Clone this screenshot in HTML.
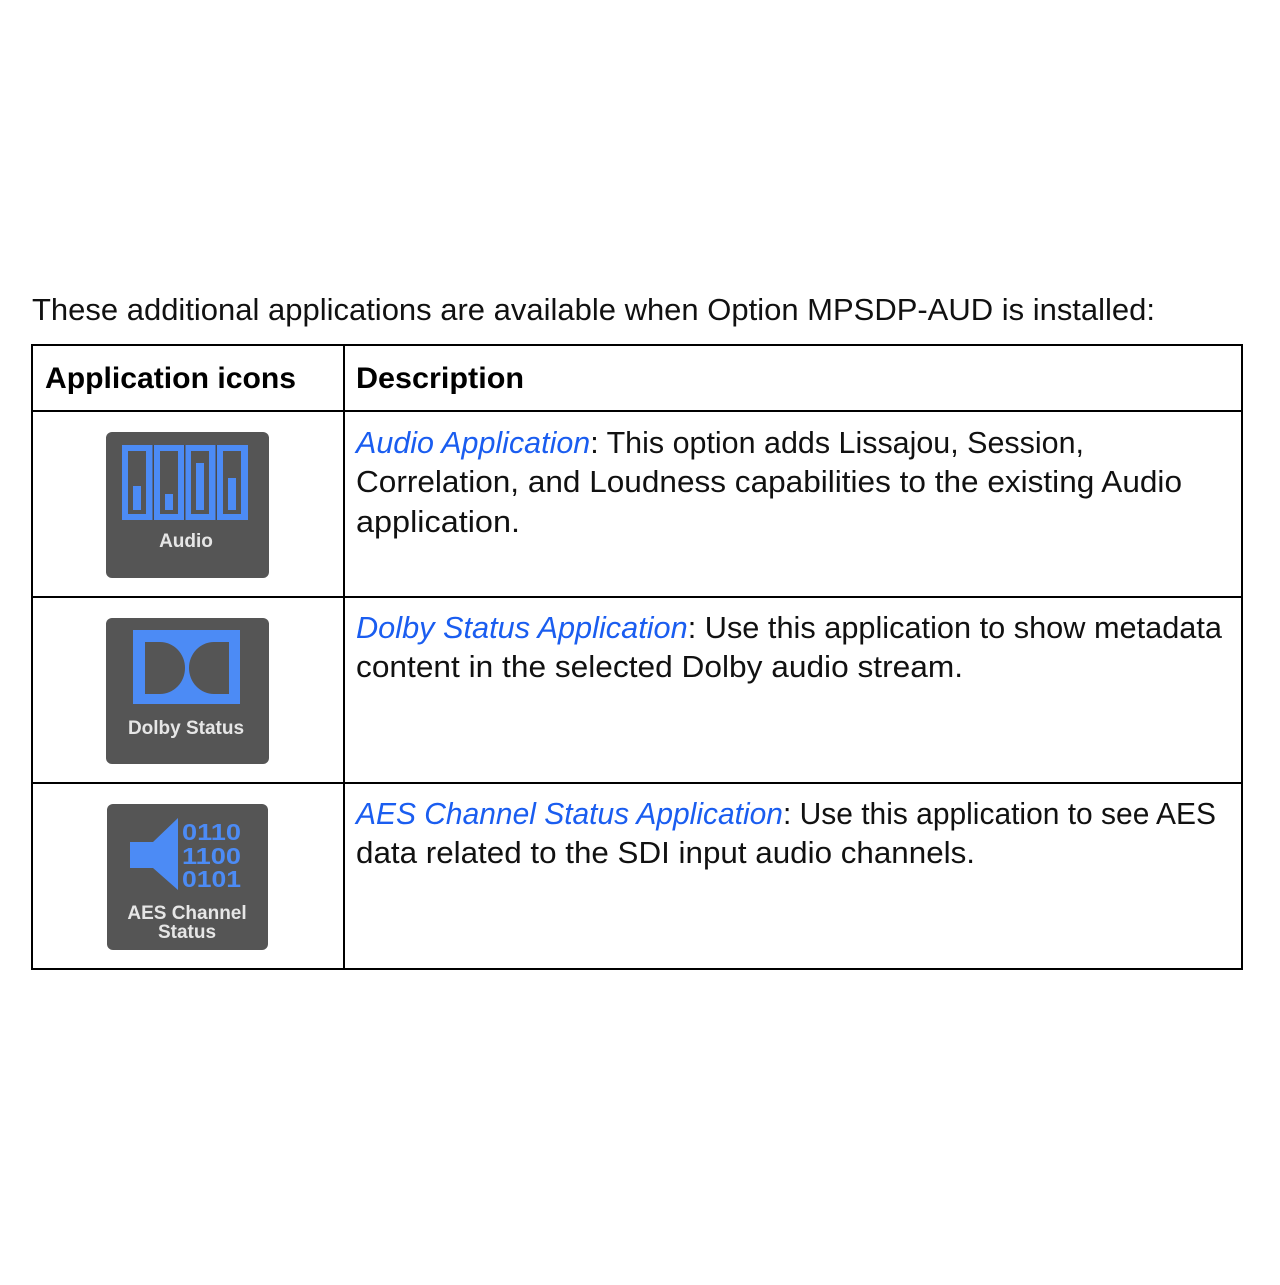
<!DOCTYPE html>
<html><head><style>html,body{margin:0;padding:0;background:#fff;}</style></head>
<body>
<svg width="1280" height="1280" viewBox="0 0 1280 1280" xmlns="http://www.w3.org/2000/svg" font-family="Liberation Sans, sans-serif">
<rect width="1280" height="1280" fill="#fff"/>
<text x="32" y="320" font-size="31" fill="#111" textLength="1123" lengthAdjust="spacingAndGlyphs">These additional applications are available when Option MPSDP-AUD is installed:</text>
<g stroke="#000" stroke-width="2" fill="none">
<rect x="32" y="345" width="1210" height="624"/>
<line x1="344" y1="345" x2="344" y2="969"/>
<line x1="32" y1="411" x2="1242" y2="411"/>
<line x1="32" y1="597" x2="1242" y2="597"/>
<line x1="32" y1="783" x2="1242" y2="783"/>
</g>
<text x="45" y="388" font-size="30" font-weight="bold" fill="#000" textLength="251" lengthAdjust="spacingAndGlyphs">Application icons</text>
<text x="356" y="388" font-size="30" font-weight="bold" fill="#000" textLength="168" lengthAdjust="spacingAndGlyphs">Description</text>
<g font-size="31" fill="#111">
<text x="356" y="453" textLength="728" lengthAdjust="spacingAndGlyphs"><tspan fill="#1a5df0" font-style="italic">Audio Application</tspan>: This option adds Lissajou, Session,</text>
<text x="356" y="492" textLength="826" lengthAdjust="spacingAndGlyphs">Correlation, and Loudness capabilities to the existing Audio</text>
<text x="356" y="532" textLength="164" lengthAdjust="spacingAndGlyphs">application.</text>
<text x="356" y="638" textLength="866" lengthAdjust="spacingAndGlyphs"><tspan fill="#1a5df0" font-style="italic">Dolby Status Application</tspan>: Use this application to show metadata</text>
<text x="356" y="677" textLength="607" lengthAdjust="spacingAndGlyphs">content in the selected Dolby audio stream.</text>
<text x="356" y="824" textLength="860" lengthAdjust="spacingAndGlyphs"><tspan fill="#1a5df0" font-style="italic">AES Channel Status Application</tspan>: Use this application to see AES</text>
<text x="356" y="863" textLength="619" lengthAdjust="spacingAndGlyphs">data related to the SDI input audio channels.</text>
</g>
<!-- Audio icon -->
<rect x="106" y="432" width="163" height="146" rx="6" fill="#555"/>
<rect x="122" y="445" width="126" height="75" fill="#4c8bf5"/>
<g fill="#4a4a4a">
<rect x="152.5" y="445" width="1.5" height="75"/><rect x="184" y="445" width="1.5" height="75"/><rect x="215.5" y="445" width="1.5" height="75"/>
</g>
<g fill="#555">
<rect x="128" y="451" width="18" height="63"/><rect x="160" y="451" width="18" height="63"/><rect x="191" y="451" width="18" height="63"/><rect x="223" y="451" width="18" height="63"/>
</g>
<g fill="#4c8bf5">
<rect x="133" y="486" width="8" height="24"/><rect x="165" y="494" width="8" height="16"/><rect x="196" y="463" width="8" height="47"/><rect x="228" y="478" width="8" height="32"/>
</g>
<text x="186" y="547" font-size="19" font-weight="bold" fill="#e6e6e6" text-anchor="middle">Audio</text>
<!-- Dolby icon -->
<rect x="106" y="618" width="163" height="146" rx="6" fill="#555"/>
<rect x="133" y="630" width="107" height="74" fill="#4c8bf5"/>
<path d="M145 642 H160 A25 26 0 0 1 160 694 H145 Z" fill="#555"/>
<path d="M229 642 H214 A25 26 0 0 0 214 694 H229 Z" fill="#555"/>
<text x="186" y="734" font-size="19" font-weight="bold" fill="#e6e6e6" text-anchor="middle">Dolby Status</text>
<!-- AES icon -->
<rect x="107" y="804" width="161" height="146" rx="6" fill="#555"/>
<path d="M130 842 H153 L178 818 V890 L153 868 H130 Z" fill="#4c8bf5"/>
<g font-size="23" font-weight="bold" fill="#4c8bf5">
<text x="182" y="840" textLength="59" lengthAdjust="spacingAndGlyphs">0110</text>
<text x="182" y="864" textLength="59" lengthAdjust="spacingAndGlyphs">1100</text>
<text x="182" y="887" textLength="59" lengthAdjust="spacingAndGlyphs">0101</text>
</g>
<text x="187" y="919" font-size="19" font-weight="bold" fill="#e6e6e6" text-anchor="middle">AES Channel</text>
<text x="187" y="938" font-size="19" font-weight="bold" fill="#e6e6e6" text-anchor="middle">Status</text>
</svg>
</body></html>
